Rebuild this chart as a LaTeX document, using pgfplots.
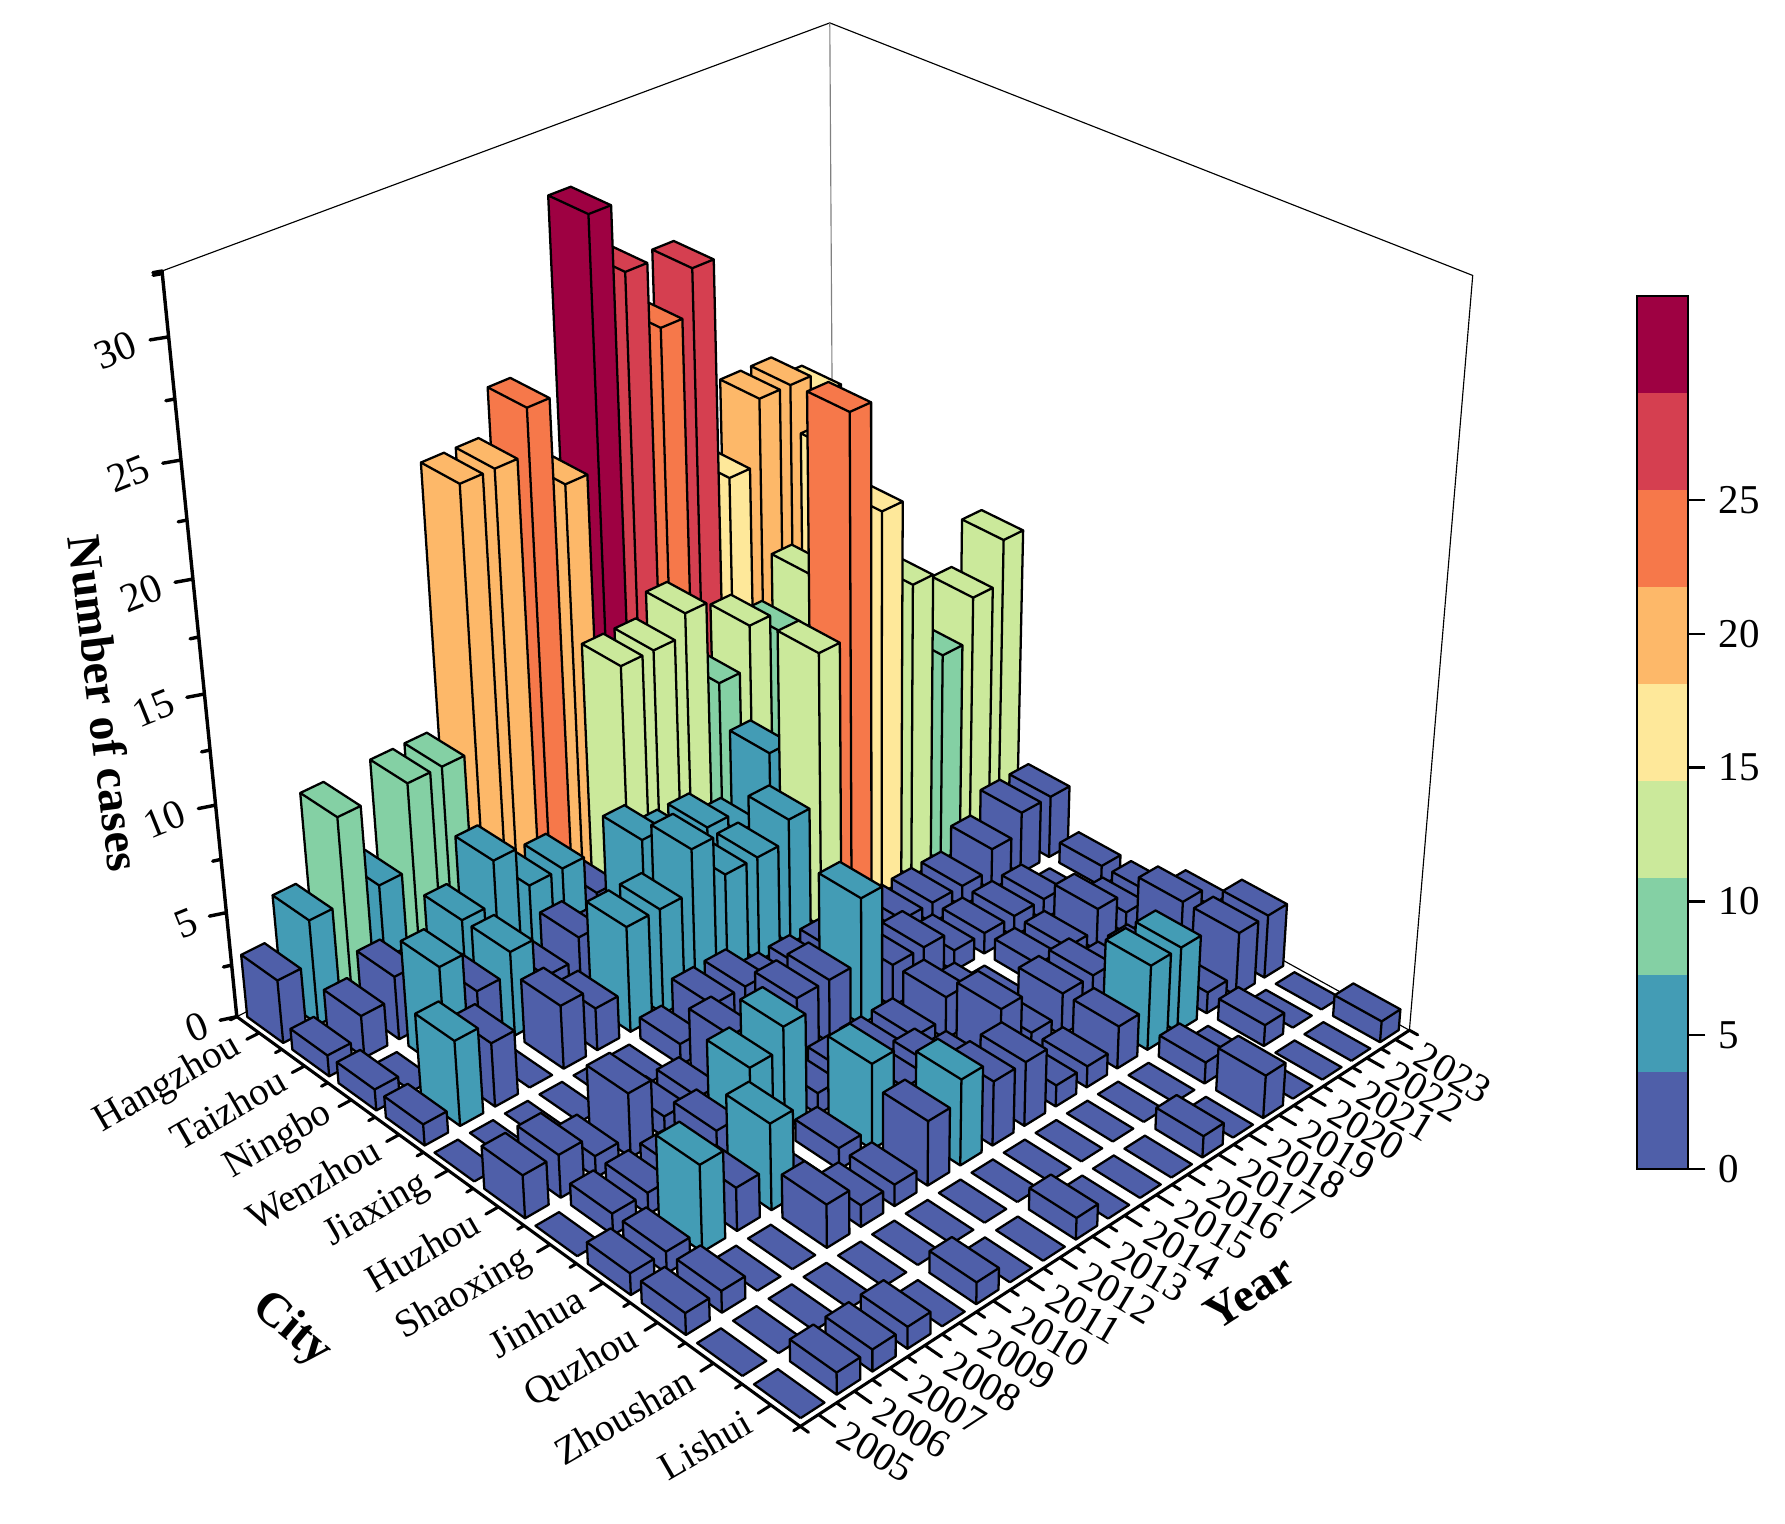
\documentclass[border=0pt]{standalone}
\usepackage{fontspec}
\setmainfont{Liberation Serif}
\usepackage{pgfplots}
\usepackage{pgfplotstable}
\pgfplotsset{compat=1.18}
\definecolor{lev0}{HTML}{4F5FA9}
\definecolor{lev1}{HTML}{439CB5}
\definecolor{lev2}{HTML}{84D0A4}
\definecolor{lev3}{HTML}{CBE99B}
\definecolor{lev4}{HTML}{FEE89A}
\definecolor{lev5}{HTML}{FDB869}
\definecolor{lev6}{HTML}{F6784A}
\definecolor{lev7}{HTML}{D53F50}
\definecolor{lev8}{HTML}{9E0142}

% cases: rows Hangzhou..Lishui, columns 2005..2023
\pgfplotstableread[header=false]{
3 5 9 5 9 9 21 21 23 19 30 27 24 26 16 19 19 18 12
1 2 3 2 4 6 4 4 2 12 12 13 9 11 10 12 17 8 7
1 0 5 3 4 2 3 2 6 5 5 4 7 5 8 8 6 6 6
1 4 3 0 3 2 5 5 7 5 5 6 13 23 18 14 10 12 14
0 0 0 0 0 0 1 2 2 1 1 1 1 1 1 1 2 3 3
2 2 1 3 1 1 3 1 3 3 6 2 2 1 1 1 1 0 1
0 1 1 1 2 4 5 1 1 1 1 2 1 0 1 1 2 1 1
1 1 4 2 4 0 1 4 2 2 1 3 1 2 2 1 1 3 2
1 1 0 0 2 1 1 3 4 3 3 1 1 2 4 4 1 3 3
0 0 0 0 0 0 0 0 0 0 0 0 0 0 1 0 1 0 0
0 1 1 1 0 1 0 0 1 0 0 0 1 0 2 0 0 0 1
}\casedata

% central projection of the 3d axis (x year, y city, z cases)
\makeatletter
\def\perspq#1#2#3{%
  \pgfmathsetmacro\pw{1+.00731*#1+.01396*#2-.003715*#3}%
  \pgfmathparse{0.3*((703+37.21*#1-42.09*#2-2.853*#3)/\pw-703)}\pgf@x=\pgfmathresult pt\relax
  \pgfmathparse{0.3*(1253-(1253-11.7*#1-20.25*#2-24.06*#3)/\pw)}\pgf@y=\pgfmathresult pt\relax
}
\def\useperspective{\let\pgfqpointxyz\perspq\let\pgfplotsqpointxyz\perspq}
\makeatother

\begin{document}
\begin{tikzpicture}
\path[use as bounding box] (-210.9pt,-25.5pt) rectangle (259.5pt,375.9pt);
\begin{scope}
\useperspective
\begin{axis}[
  at={(0,0)},anchor=origin,hide axis,clip=false,disabledatascaling,
  x={(11pt,3.5pt)},y={(-12.6pt,6pt)},z={(0pt,7pt)},
  xmin=0,xmax=19,ymin=0,ymax=11,zmin=0,zmax=32.6,
  execute at begin axis={\useperspective},
  before end axis/.code={\useperspective},
  every axis plot/.append style={forget plot,mark=none,line join=round},
]
% walls
\addplot3[black,line width=.3pt] coordinates {(0,11,32.6)(19,11,32.6)(19,0,32.6)(19,0,0)};
\addplot3[black!50,line width=.3pt] coordinates {(19,11,32.6)(19,11,0)};
\addplot3[black,line width=.3pt] coordinates {(0,11,0)(19,11,0)(19,0,0)};
% bars, back to front
\foreach \c in {0,...,10}{
  \foreach \t in {18,...,0}{
    \pgfplotstablegetelem{\c}{\t}\of\casedata
    \let\v\pgfplotsretval
    \pgfmathtruncatemacro\lev{\v/3.6223}
    \pgfmathsetmacro\xa{\t+.5-.33}
    \pgfmathsetmacro\xb{\t+.5+.33}
    \pgfmathsetmacro\ya{10.5-\c-.40}
    \pgfmathsetmacro\yb{10.5-\c+.40}
    \ifnum\v=0
      \edef\temp{\noexpand\addplot3[fill=lev\lev,draw=black,line width=.6pt] coordinates
        {(\xa,\ya,0)(\xa,\yb,0)(\xb,\yb,0)(\xb,\ya,0)(\xa,\ya,0)};}
    \else
      \edef\temp{\noexpand\addplot3[fill=lev\lev,draw=black,line width=.6pt] coordinates
        {(\xa,\ya,\v)(\xa,\yb,\v)(\xb,\yb,\v)(\xb,\ya,\v)(\xa,\ya,\v)
         (\xa,\ya,0)(\xb,\ya,0)(\xb,\ya,\v)(\xa,\ya,\v)
         (\xa,\ya,0)(\xa,\yb,0)(\xa,\yb,\v)(\xa,\ya,\v)};}
    \fi
    \temp
  }
}
% z axis with ticks
\gdef\pts{(0,11,0)}
\foreach \z in {0,2.5,...,32.5}{
  \pgfmathsetmacro\ticka{mod(\z,5)==0 ? 0.36 : 0.18}
  \pgfmathsetmacro\tickb{mod(\z,5)==0 ? 11.09 : 11.04}
  \xdef\pts{\pts (0,11,\z)(-\ticka,\tickb,\z)(0,11,\z)}
}
\edef\temp{\noexpand\addplot3[black,line width=.9pt] coordinates {\pts (0,11,32.6)(-.18,11.04,32.6)(0,11,32.6)};}\temp
% city axis
\gdef\pts{(0,11,0)}
\foreach \k in {0,...,11}{
  \pgfmathsetmacro\yb{11-\k}
  \pgfmathsetmacro\ym{10.5-\k}
  \ifnum\k<11
    \xdef\pts{\pts (0,\yb,0)(-.18,\yb,0)(0,\yb,0)(0,\ym,0)(-.35,\ym,0)(0,\ym,0)}
  \else
    \xdef\pts{\pts (0,\yb,0)(-.18,\yb,0)(0,\yb,0)}
  \fi
}
\edef\temp{\noexpand\addplot3[black,line width=.8pt] coordinates {\pts};}\temp
% year axis
\gdef\pts{(0,0,0)}
\foreach \k in {0,...,19}{
  \pgfmathsetmacro\xm{\k+.5}
  \ifnum\k<19
    \xdef\pts{\pts (\k,0,0)(\k,-.14,0)(\k,0,0)(\xm,0,0)(\xm,-.28,0)(\xm,0,0)}
  \else
    \xdef\pts{\pts (\k,0,0)(\k,-.14,0)(\k,0,0)}
  \fi
}
\edef\temp{\noexpand\addplot3[black,line width=.8pt] coordinates {\pts};}\temp
% labels
\foreach \nm [count=\k from 0] in {Hangzhou,Taizhou,Ningbo,Wenzhou,Jiaxing,Huzhou,Shaoxing,Jinhua,Quzhou,Zhoushan,Lishui}{
  \pgfmathsetmacro\ym{10.5-\k}
  \edef\temp{\noexpand\node[anchor=east,rotate=30,font=\noexpand\fontsize{10.3}{12}\noexpand\selectfont,inner sep=0pt] at (axis cs:-.6,\ym,0) {\nm};}\temp
}
\foreach \yr [count=\k from 0] in {2005,...,2023}{
  \pgfmathsetmacro\xm{\k+.5}
  \edef\temp{\noexpand\node[anchor=west,rotate=-31,font=\noexpand\fontsize{10.6}{12}\noexpand\selectfont,inner sep=0pt] at (axis cs:\xm,-.38,0) {\yr};}\temp
}
\foreach \z in {0,5,...,30}{
  \edef\temp{\noexpand\node[anchor=east,rotate=22,font=\noexpand\fontsize{10.8}{12}\noexpand\selectfont,inner sep=0pt] at (axis cs:-.65,11.16,\z) {\z};}\temp
}
\node[rotate=-83,font=\bfseries\fontsize{12.6}{14}\selectfont] at (axis cs:-1.8,11.7,15) {Number of cases};
\node[rotate=-40,font=\bfseries\fontsize{12.6}{14}\selectfont] at (axis cs:-5.62,5.43,0) {City};
\node[rotate=33,font=\bfseries\fontsize{12.6}{14}\selectfont] at (axis cs:9.54,-2.02,0) {Year};
\end{axis}
\end{scope}
% colour bar
\begin{axis}[
  at={(220.5pt,67.8pt)},anchor=south west,scale only axis,width=13.5pt,height=230pt,
  xmin=0,xmax=1,ymin=0,ymax=32.6,xtick=\empty,
  ytick={0,5,10,15,20,25},ytick pos=right,yticklabel pos=right,
  tick align=outside,major tick length=4.5pt,tick style={black,line width=.6pt},
  axis line style={line width=.6pt},
  /pgf/number format/assume math mode=true,
  tick label style={font=\fontsize{10.8}{12}\selectfont},
  every axis plot/.append style={forget plot,draw=none,mark=none},
  axis on top,
]
\addplot[fill=lev0] coordinates {(0,0)(1,0)(1,3.622)(0,3.622)};
\addplot[fill=lev1] coordinates {(0,3.622)(1,3.622)(1,7.244)(0,7.244)};
\addplot[fill=lev2] coordinates {(0,7.244)(1,7.244)(1,10.867)(0,10.867)};
\addplot[fill=lev3] coordinates {(0,10.867)(1,10.867)(1,14.489)(0,14.489)};
\addplot[fill=lev4] coordinates {(0,14.489)(1,14.489)(1,18.111)(0,18.111)};
\addplot[fill=lev5] coordinates {(0,18.111)(1,18.111)(1,21.733)(0,21.733)};
\addplot[fill=lev6] coordinates {(0,21.733)(1,21.733)(1,25.356)(0,25.356)};
\addplot[fill=lev7] coordinates {(0,25.356)(1,25.356)(1,28.978)(0,28.978)};
\addplot[fill=lev8] coordinates {(0,28.978)(1,28.978)(1,32.6)(0,32.6)};
\end{axis}
\end{tikzpicture}
\end{document}
